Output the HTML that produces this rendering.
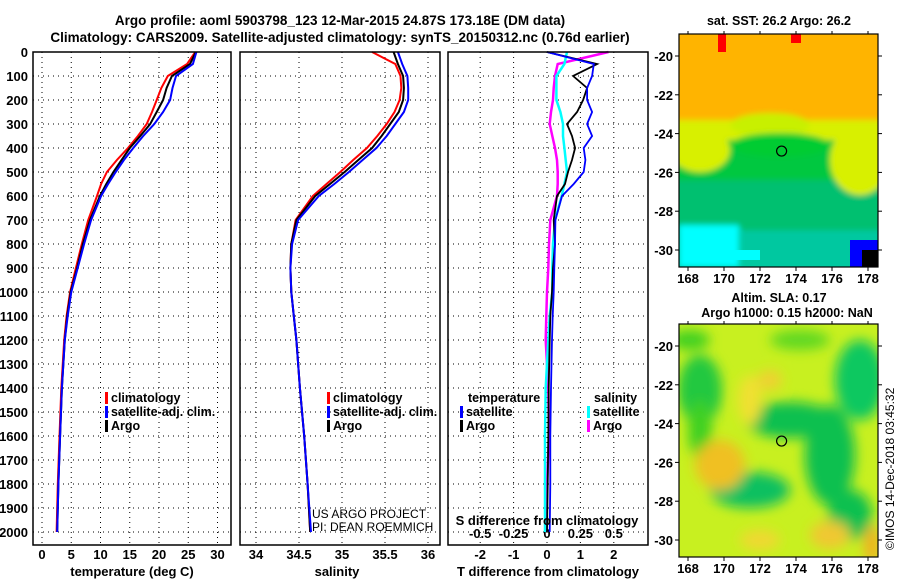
<!DOCTYPE html>
<html><head><meta charset="utf-8"><style>
body{margin:0;background:#fff;}
svg{display:block;font-family:"Liberation Sans",sans-serif;font-weight:bold;}
</style></head><body>
<svg id="c" width="900" height="580" xmlns="http://www.w3.org/2000/svg">
<defs>
<filter id="bl" x="-20%" y="-20%" width="140%" height="140%"><feGaussianBlur stdDeviation="6"/></filter>
<filter id="bl2" x="-20%" y="-20%" width="140%" height="140%"><feGaussianBlur stdDeviation="3"/></filter>
<clipPath id="m1"><rect x="679" y="34" width="199" height="233"/></clipPath>
<clipPath id="m2"><rect x="679" y="324" width="199" height="233"/></clipPath>
</defs>
<text x="340" y="25" text-anchor="middle" font-size="13.5">Argo profile: aoml 5903798_123 12-Mar-2015 24.87S 173.18E (DM data)</text>
<text x="340" y="42" text-anchor="middle" font-size="13.5">Climatology: CARS2009. Satellite-adjusted climatology: synTS_20150312.nc (0.76d earlier)</text>
<g id="plots"></g>
<g id="maps"></g>
</svg>
<script>
const depthTicks=[0,100,200,300,400,500,600,700,800,900,1000,1100,1200,1300,1400,1500,1600,1700,1800,1900,2000];
const depths=[0,50,100,150,200,250,300,350,400,450,500,550,600,700,800,900,1000,1100,1200,1400,1600,1800,2000];
// temperature (deg C)
const tArgo=[26.3,25.3,22.2,21.3,20.7,19.6,18.5,16.8,15.0,13.6,12.2,11.0,9.9,8.2,7.0,6.0,4.9,4.3,3.9,3.4,3.1,2.8,2.6];
const tClim=[26.2,24.8,21.5,20.4,19.6,18.8,17.9,16.4,14.7,12.8,11.1,10.1,9.4,7.9,6.8,5.8,4.8,4.2,3.8,3.3,3.0,2.7,2.5];
const tSat=[26.4,25.8,22.9,22.3,21.9,20.7,19.2,17.3,15.6,14.0,12.6,11.3,10.1,8.4,7.2,6.1,5.0,4.4,3.9,3.4,3.1,2.8,2.6];
// salinity
const sArgo=[35.6,35.65,35.71,35.72,35.71,35.66,35.56,35.46,35.35,35.19,35.03,34.86,34.69,34.47,34.41,34.40,34.41,34.44,34.47,34.51,34.56,34.60,34.63];
const sClim=[35.35,35.62,35.68,35.69,35.67,35.61,35.52,35.41,35.29,35.13,34.98,34.82,34.66,34.46,34.41,34.40,34.41,34.44,34.47,34.51,34.56,34.60,34.63];
const sSat=[35.65,35.70,35.76,35.77,35.77,35.72,35.62,35.52,35.40,35.24,35.08,34.91,34.73,34.49,34.42,34.40,34.41,34.44,34.47,34.51,34.56,34.60,34.64];
// differences from climatology
const dTArgo=[0.0,1.5,0.78,1.2,1.08,0.9,0.6,0.75,0.84,0.75,0.63,0.54,0.3,0.2,0.24,0.18,0.15,0.1,0.08,0.05,0.04,0.02,0.0];
const dTSat=[0.0,1.4,1.35,1.2,1.2,1.35,1.2,1.35,1.1,1.15,1.1,0.8,0.45,0.25,0.24,0.22,0.2,0.17,0.15,0.12,0.1,0.1,0.08];
const dSArgo=[0.46,0.08,0.06,0.05,0.045,0.03,0.02,0.04,0.06,0.075,0.08,0.08,0.075,0.025,0.015,0.01,0.0,-0.005,-0.01,0.01,0.015,0.0,-0.005];
const dSSat=[0.15,0.13,0.07,0.07,0.07,0.1,0.12,0.12,0.13,0.14,0.15,0.13,0.11,0.06,0.045,0.04,0.04,0.02,0.01,-0.01,-0.015,-0.015,-0.015];
const tTicks=[0,5,10,15,20,25,30];
const sTicks=[34,34.5,35,35.5,36];
const dTTicks=[-2,-1,0,1,2];
const dSTicks=[-0.5,-0.25,0,0.25,0.5];
const dSLabels=['-0.5','-0.25','0','0.25','0.5'];
const lonTicks=[168,170,172,174,176,178];
const latTicks=[-20,-22,-24,-26,-28,-30];

const NS='http://www.w3.org/2000/svg';
const P=document.getElementById('plots');
function el(t,a,p){const e=document.createElementNS(NS,t);for(const k in a)e.setAttribute(k,a[k]);(p||P).appendChild(e);return e;}
function txt(x,y,s,a,p){const e=el('text',Object.assign({x:x,y:y},a||{}),p);e.textContent=s;return e;}
const Y=d=>52+d*0.24;
const xT=v=>42+v*5.85;
const xS=v=>256+(v-34)*86;
const xD=v=>547+v*33.4;
const xDS=v=>547+v*4*33.4;
const panels=[[33,231],[240,440],[448,648]];
const TOP=52,BOT=545;

panels.forEach((p,i)=>{
  const g=el('g',{});
  
  
  depthTicks.forEach(d=>{el('line',{x1:p[0],x2:p[1],y1:Y(d),y2:Y(d),stroke:'#000','stroke-width':1,'stroke-dasharray':'1,4'},g);});
});
function vgrid(ticks,f,p){ticks.forEach(v=>{el('line',{x1:f(v),x2:f(v),y1:TOP,y2:BOT,stroke:'#000','stroke-width':1,'stroke-dasharray':'1,4'});});}
vgrid(tTicks,xT);vgrid(sTicks,xS);vgrid(dTTicks,xD);

depthTicks.forEach(d=>{
  const t=txt(28,Y(d)+5,String(d),{'text-anchor':'end','font-size':13});
  
  
});
function xlabels(ticks,f,labels,y){ticks.forEach((v,i)=>{
  const t=txt(f(v),y,labels?labels[i]:String(v),{'text-anchor':'middle','font-size':13});
  
  
});}
xlabels(tTicks,xT,null,559);
xlabels(sTicks,xS,null,559);
xlabels(dTTicks,xD,null,559);
xlabels(dSTicks,xDS,dSLabels,538);

function line(xs,f,color,w,name){
  const pts=xs.map((v,i)=>f(v).toFixed(1)+','+Y(depths[i]).toFixed(1)).join(' ');
  const e=el('polyline',{points:pts,fill:'none',stroke:color,'stroke-width':w});
  
  
}
line(tClim,xT,'#f00',2,'temp-climatology-line');
line(tArgo,xT,'#000',2,'temp-argo-line');
line(tSat,xT,'#00f',2,'temp-satellite-line');
line(sClim,xS,'#f00',2,'sal-climatology-line');
line(sArgo,xS,'#000',2,'sal-argo-line');
line(sSat,xS,'#00f',2,'sal-satellite-line');
line(dSArgo,xDS,'#f0f',2.5,'sdiff-argo-line');
line(dSSat,xDS,'#0ff',2.5,'sdiff-satellite-line');
line(dTArgo,xD,'#000',1.8,'tdiff-argo-line');
line(dTSat,xD,'#00f',1.8,'tdiff-satellite-line');

panels.forEach((p,i)=>{
  const r=el('rect',{x:p[0],y:TOP,width:p[1]-p[0],height:BOT-TOP,fill:'none',stroke:'#000','stroke-width':1.5});
  
  
});

function legend(x,y,items,name){
  const g=el('g',{});
  
  
  items.forEach((it,i)=>{
    if(it[1])el('rect',{x:x,y:y+i*14-10,width:3,height:12,fill:it[1]},g);
    txt(x+(it[1]?6:0),y+i*14,it[0],{'font-size':12.5},g);
  });
}
legend(105,402,[['climatology','#f00'],['satellite-adj. clim.','#00f'],['Argo','#000']],'temp-legend');
legend(327,402,[['climatology','#f00'],['satellite-adj. clim.','#00f'],['Argo','#000']],'sal-legend');
legend(468,402,[['temperature',null]],'tdiff-legend-title');
legend(460,416,[['satellite','#00f'],['Argo','#000']],'tdiff-legend');
legend(594,402,[['salinity',null]],'sdiff-legend-title');
legend(587,416,[['satellite','#0ff'],['Argo','#f0f']],'sdiff-legend');
txt(312,518,'US ARGO PROJECT',{'font-size':12,'font-weight':'normal'});
txt(312,531,'PI: DEAN ROEMMICH',{'font-size':12,'font-weight':'normal'});
txt(547,525,'S difference from climatology',{'text-anchor':'middle','font-size':13});
txt(132,576,'temperature (deg C)',{'text-anchor':'middle','font-size':13});
txt(337,576,'salinity',{'text-anchor':'middle','font-size':13});
txt(548,576,'T difference from climatology',{'text-anchor':'middle','font-size':13});

// Maps
const M=document.getElementById('maps');
const lonX=v=>688+(v-168)*18;
const latY1=v=>56+(-20-v)*19.4;
const latY2=v=>346+(-20-v)*19.4;
function mapFrame(top,latY,name){
  const g=el('g',{},M);
  
  
  el('rect',{x:679,y:top,width:199,height:233,fill:'none',stroke:'#000','stroke-width':1.2},g);
  lonTicks.forEach(v=>{el('line',{x1:lonX(v),x2:lonX(v),y1:top,y2:top-3,stroke:'#000'},g);el('line',{x1:lonX(v),x2:lonX(v),y1:top+233,y2:top+237,stroke:'#000'},g);txt(lonX(v),top+249,String(v),{'text-anchor':'middle','font-size':13},g);});
  latTicks.forEach(v=>{el('line',{x1:679,x2:675,y1:latY(v),y2:latY(v),stroke:'#000'},g);el('line',{x1:878,x2:882,y1:latY(v),y2:latY(v),stroke:'#000'},g);txt(673,latY(v)+5,String(v),{'text-anchor':'end','font-size':13},g);});
  el('circle',{cx:lonX(173.2),cy:latY(-24.9),r:5,fill:'none',stroke:'#000','stroke-width':1.2},g);
}
// top SST map
const g1=el('g',{'clip-path':'url(#m1)'},M);


el('rect',{x:679,y:34,width:199,height:233,fill:'#00c8a0'},g1);
const gb=el('g',{filter:'url(#bl2)'},g1);
el('rect',{x:670,y:170,width:220,height:60,fill:'#00c070'},gb);
el('rect',{x:670,y:130,width:220,height:50,fill:'#00c840'},gb);
el('ellipse',{cx:860,cy:160,rx:30,ry:35,fill:'#d8f000'},gb);
el('ellipse',{cx:700,cy:150,rx:30,ry:22,fill:'#d8f000'},gb);
el('rect',{x:670,y:110,width:220,height:30,fill:'#d8f000'},gb);
el('rect',{x:670,y:25,width:220,height:95,fill:'#ffb400'},gb);
el('ellipse',{cx:770,cy:125,rx:40,ry:12,fill:'#c8f000'},gb);
el('ellipse',{cx:780,cy:145,rx:50,ry:12,fill:'#00cc30'},gb);
el('rect',{x:679,y:225,width:60,height:42,fill:'#00ffff'},gb);
el('rect',{x:850,y:240,width:28,height:27,fill:'#0000ff'},g1);
el('rect',{x:862,y:250,width:16,height:17,fill:'#000'},g1);
el('rect',{x:718,y:34,width:8,height:18,fill:'#f00'},g1);
el('rect',{x:791,y:34,width:10,height:9,fill:'#f00'},g1);
el('rect',{x:720,y:250,width:40,height:10,fill:'#00ffff'},g1);
mapFrame(34,latY1,'sst-map-axes');
txt(779,25,'sat. SST: 26.2 Argo: 26.2',{'text-anchor':'middle','font-size':12.5});
// bottom SLA map
const g2=el('g',{'clip-path':'url(#m2)'},M);


el('rect',{x:679,y:324,width:199,height:233,fill:'#c8f020'},g2);
const gc=el('g',{filter:'url(#bl)'},g2);
[[700,390,22,35,'#20c840'],[860,380,25,40,'#10c860'],[690,340,20,10,'#40d020'],[800,340,30,10,'#60d820'],
 [790,420,45,18,'#10c050'],[830,455,25,50,'#10c050'],[850,515,22,25,'#10c050'],
 [750,490,40,18,'#10c060'],[700,430,12,30,'#40d020'],[720,465,25,25,'#f0c020'],[750,400,12,25,'#f0e030'],
 [770,380,12,10,'#f0d030'],[830,535,20,14,'#f0c830'],[760,540,20,10,'#f0d830'],[872,545,8,20,'#f0b020']].forEach(b=>{
  el('ellipse',{cx:b[0],cy:b[1],rx:b[2],ry:b[3],fill:b[4]},gc);
});
mapFrame(324,latY2,'sla-map-axes');
txt(779,302,'Altim. SLA: 0.17',{'text-anchor':'middle','font-size':12.5});
txt(787,317,'Argo h1000: 0.15 h2000: NaN',{'text-anchor':'middle','font-size':12.5});
const cp=txt(0,0,'©IMOS 14-Dec-2018 03:45:32',{'font-size':12,'font-weight':'normal','transform':'translate(894,550) rotate(-90)'},M);


</script>
</body></html>
